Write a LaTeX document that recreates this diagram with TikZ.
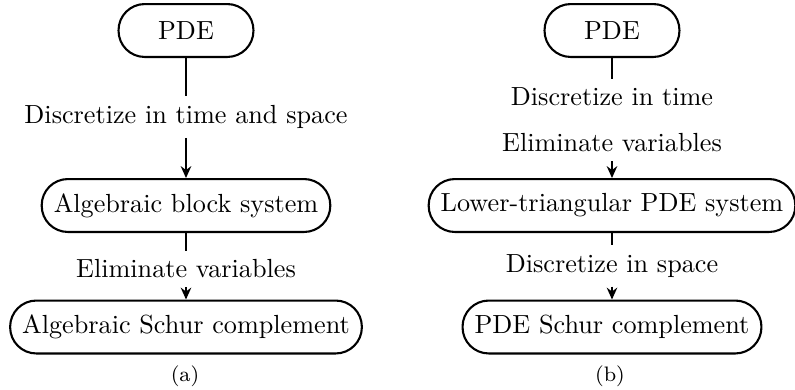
\documentclass[tikz,border=0pt]{standalone}
\usetikzlibrary{arrows.meta}
\begin{document}
\begin{tikzpicture}[x=0.3817pt,y=-0.3817pt,
  box/.style={draw, thick, rounded corners=10pt, minimum height=20.2pt, minimum width=51.5pt, inner xsep=4.6pt},
  lbl/.style={inner sep=3.33pt},
  subcap/.style={font=\footnotesize},
  conn/.style={thick},
  arr/.style={thick,-{Stealth[length=4.5pt,width=4pt]}}]
\useasboundingbox (0,0) rectangle (795,389);
% (a)
\node[box] (a1) at (186,30.5) {PDE};
\node[lbl] (la1) at (186,117) {Discretize in time and space};
\node[box] (a2) at (186,205.5) {Algebraic block system};
\node[lbl] (la2) at (186,269) {Eliminate variables};
\node[box] (a3) at (186,327) {Algebraic Schur complement};
\node[subcap] (capa) at (185,376) {(a)};
\draw[conn] (a1) -- (la1);
\draw[arr] (la1) -- (a2);
\draw[conn] (a2) -- (la2);
\draw[arr] (la2) -- (a3);
% (b)
\node[box] (b1) at (612,30.5) {PDE};
\node[lbl] (lb1) at (612,97) {Discretize in time};
\node[lbl] (lb2) at (612,143) {Eliminate variables};
\node[box] (b2) at (612,205.5) {Lower-triangular PDE system};
\node[lbl] (lb3) at (612,266) {Discretize in space};
\node[box] (b3) at (612,327) {PDE Schur complement};
\node[subcap] (capb) at (610,376) {(b)};
\draw[conn] (b1) -- (lb1);
\draw[arr] (lb2) -- (b2);
\draw[conn] (b2) -- (lb3);
\draw[arr] (lb3) -- (b3);
\end{tikzpicture}
\end{document}
